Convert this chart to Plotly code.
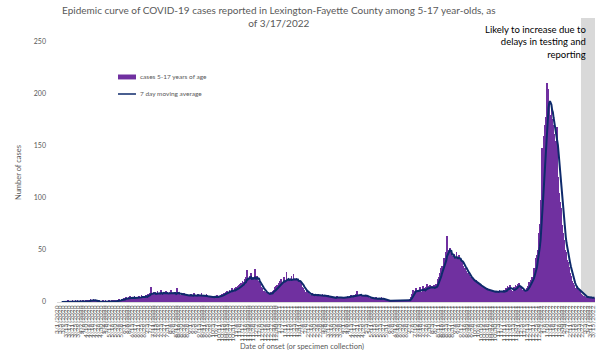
import pandas as pd
import plotly.graph_objects as go

# Daily cases among 5-17 year-olds, one list per month
mar20 = [0,0,0,0,0,0,0,0,0,0, 0,0,0,0,0,1,0,0,0,0, 0,1,0,0,0,1,0,0,1,0, 0]
apr20 = [0,1,0,0,0,1,0,0,0,1, 0,0,1,2,1,3,2,1,2,3, 1,2,1,0,1,0,0,1,0,0]
may20 = [0,0,1,0,0,0,1,0,0,0, 0,1,0,0,0,1,0,1,1,0, 2,1,0,2,1,3,2,1,2,3, 2]
jun20 = [3,4,2,5,3,2,4,5,3,6, 4,3,2,5,4,6,3,4,5,2, 4,6,5,3,4,7,5,4,3,6]
jul20 = [5,7,4,6,8,5,7,9,14,6, 8,7,10,6,9,8,7,11,6,8, 9,7,12,8,6,9,10,7,8,11, 7]
aug20 = [8,6,9,10,7,12,8,6,9,7, 10,8,6,13,7,8,9,6,7,5, 8,6,7,9,5,6,8,7,5,6, 7]
sep20 = [6,5,8,7,4,6,9,5,6,7, 5,8,6,4,7,6,9,5,6,7, 4,6,5,8,5,4,6,5,3,6]
oct20 = [5,4,6,5,3,6,5,4,7,5, 4,6,5,7,6,8,7,9,6,8, 10,9,11,8,10,12,11,9,13,10, 12]
nov20 = [11,13,10,14,12,15,13,16,12,17, 18,15,20,16,19,22,18,24,31,20, 23,19,25,22,28,18,21,24,20,32]
dec20 = [22,19,25,21,18,20,17,15,14,12, 13,10,11,9,8,10,7,9,6,8, 7,9,10,8,11,12,10,14,13,15, 16]
jan21 = [14,18,17,20,16,22,19,18,21,24, 17,20,29,22,19,23,18,21,20,25, 22,18,27,20,21,19,23,22,20,17, 21]
feb21 = [19,16,18,14,13,12,11,10,9,12, 8,10,7,8,6,7,5,9,6,7, 6,8,5,7,6,8,6,5]
mar21 = [7,6,5,8,6,5,7,6,4,6, 5,7,4,5,4,6,3,5,4,4, 5,3,4,6,4,3,5,4,4,5, 4]
apr21 = [4,3,5,4,3,5,4,6,5,4, 6,5,7,6,5,4,7,6,5,8, 11,6,5,7,6,5,8,6,5,7]
may21 = [6,5,7,5,6,4,5,3,4,3, 5,4,3,2,4,3,5,3,2,4, 3,4,2,3,5,3,2,3,2,1, 2]
jun21 = [1,2,1,0,1,2,1,1,0,2, 1,1,2,0,1,1,2,1,0,1, 2,1,1,2,1,0,1,2,1,1]
jul21 = [2,1,3,2,5,8,9,12,10,11, 9,13,8,10,12,9,11,14,10,8, 12,15,11,13,9,14,17,12,15,13, 16]
aug21 = [14,12,15,13,11,16,14,15,17,16, 19,22,24,28,30,33,35,32,38,42, 40,45,48,63,44,50,46,52,42,47, 41]
sep21 = [44,40,46,39,43,48,41,38,42,45, 37,40,36,39,34,35,31,33,29,30, 27,28,24,26,22,24,20,22,19,21]
oct21 = [20,18,21,17,19,16,18,15,14,16, 13,15,12,14,11,13,12,10,13,11, 12,10,11,9,12,10,8,11,10,9, 11]
nov21 = [10,8,11,9,12,10,9,11,8,10, 12,9,11,13,12,15,14,11,16,13, 12,10,11,9,14,12,16,15,13,17]
dec21 = [16,18,14,12,13,10,11,12,9,11, 10,12,13,15, 17,19,16,21,20,24,22, 28,33,30,38,42,45,50, 58,66,75]
jan22 = [85,98,148,125,140,160,170, 178,200,211,185,205,192,180, 168,186,176,170,168,162,155,
         148,135,168,120,112,105,96, 90,82,74]
feb22 = [66,60,55,50,48,44,40, 38,34,30,28,25,22,20, 18,16,14,13,12,11,15, 10,12,9,11,8,7,6]
mar22 = [5,6,4,5,3,6,4,5,4,3,5,4,3,4,5,3,4]

months = [mar20, apr20, may20, jun20, jul20, aug20, sep20, oct20, nov20, dec20,
          jan21, feb21, mar21, apr21, may21, jun21, jul21, aug21, sep21, oct21, nov21, dec21,
          jan22, feb22, mar22]
cases = [v for m in months for v in m]
dates = pd.date_range("2020-03-01", periods=len(cases), freq="D")
moving_avg = pd.Series(cases).rolling(7).mean()

tick_dates = pd.date_range("2020-03-01", "2022-03-17", freq="4D")

FONT = "Lato"
GREY = "#595959"
PURPLE = "#7030A0"
NAVY = "#0E2A6B"

fig = go.Figure()
fig.add_bar(x=dates, y=cases, marker_color=PURPLE, marker_line_width=0,
            name="cases 5-17 years of age", showlegend=False)
fig.add_scatter(x=dates, y=moving_avg, mode="lines", line=dict(color=NAVY, width=2),
                name="7 day moving average", showlegend=False)

# Reporting-lag window at the end of the series
fig.add_shape(type="rect", xref="x", yref="paper", x0="2022-02-26", x1="2022-03-17 12:00",
              y0=0, y1=1.092, fillcolor="#D9D9D9", line_width=0, layer="below")

# Legend drawn as swatches plus labels
fig.add_shape(type="rect", xref="paper", yref="paper", x0=0.1134, x1=0.1468,
              y0=0.856, y1=0.875, fillcolor=PURPLE, line_width=0)
fig.add_shape(type="line", xref="paper", yref="paper", x0=0.1134, x1=0.1468,
              y0=0.8, y1=0.8, line=dict(color=NAVY, width=1.5))
fig.add_annotation(text="cases 5-17 years of age", xref="paper", yref="paper",
                   x=0.1505, y=0.866, xanchor="left", yanchor="middle", showarrow=False,
                   font=dict(family=FONT, size=6.5, color=GREY))
fig.add_annotation(text="7 day moving average", xref="paper", yref="paper",
                   x=0.1505, y=0.8, xanchor="left", yanchor="middle", showarrow=False,
                   font=dict(family=FONT, size=6.5, color=GREY))

# Chart title
fig.add_annotation(text="Epidemic curve of COVID-19 cases reported in Lexington-Fayette County among 5-17 year-olds, as<br>of 3/17/2022",
                   xref="paper", yref="paper", x=0.412, y=1.152, xanchor="center", yanchor="top",
                   align="center", showarrow=False,
                   font=dict(family=FONT, size=10, color=GREY))

fig.add_annotation(text="Likely to increase due to<br>delays in testing and<br>reporting",
                   xref="paper", yref="paper", x=0.987, y=1.078, xanchor="right", yanchor="top",
                   align="right", showarrow=False,
                   font=dict(family=FONT, size=9.5, color="black"))

fig.add_annotation(text="Number of cases", xref="paper", yref="paper", x=-0.0725, y=0.5,
                   textangle=-90, xanchor="center", yanchor="middle", showarrow=False,
                   font=dict(family=FONT, size=7.5, color=GREY))
fig.add_annotation(text="Date of onset (or specimen collection)", xref="paper", yref="paper",
                   x=0.455, y=-0.172, xanchor="center", yanchor="middle", showarrow=False,
                   font=dict(family=FONT, size=7.5, color=GREY))

fig.update_layout(
    width=600, height=350,
    margin=dict(l=57, r=5, t=42, b=48),
    paper_bgcolor="white", plot_bgcolor="white",
    bargap=0,
    xaxis=dict(type="date", range=["2020-02-29 12:00", "2022-03-17 12:00"],
               tickmode="array", tickvals=tick_dates,
               ticktext=[f"{d.month}/{d.day}/{d.year}" for d in tick_dates],
               tickangle=-90, tickfont=dict(family=FONT, size=6.5, color=GREY),
               showgrid=False, zeroline=False, showline=True, linecolor="#D9D9D9", ticks=""),
    yaxis=dict(range=[0, 250], tickvals=[0, 50, 100, 150, 200, 250],
               tickfont=dict(family=FONT, size=7, color=GREY), ticklabelstandoff=10,
               showgrid=False, zeroline=False, showline=False, ticks=""),
)

fig.write_html("out.html")
